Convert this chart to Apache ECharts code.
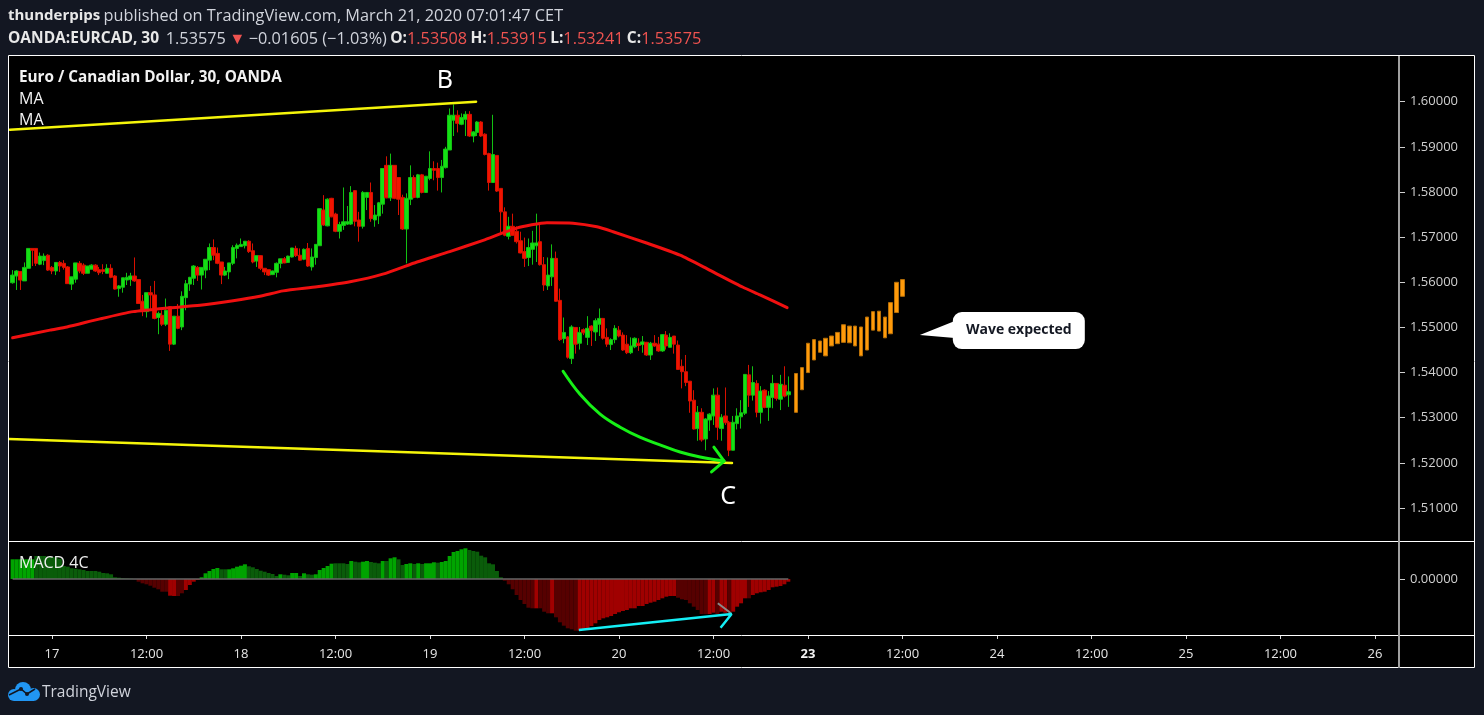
<!DOCTYPE html>
<html><head><meta charset="utf-8">
<style>html,body{margin:0;padding:0;background:#131722;}#c{width:1484px;height:715px;}</style>
<script src="https://cdn.jsdelivr.net/npm/echarts@6/dist/echarts.min.js"></script>
</head><body><div id="c"></div>
<script>
// x values are bar numbers counted from "17 00:00" (one bar = 30 minutes on the chart's compressed time scale)
const firstBar = -10;
const dateTicks = [0,24,48,72,96,120,144,168,192,216,240,264,288,312,336];
const dateLabels = ['17','12:00','18','12:00','19','12:00','20','12:00','23','12:00','24','12:00','25','12:00','26'];
const priceTicks = [1.51,1.52,1.53,1.54,1.55,1.56,1.57,1.58,1.59,1.60];
const macdTicks = [0];
// [open, close, low, high]
const candles = [
[1.5599,1.5616,1.5597,1.5627],[1.5614,1.5625,1.5583,1.5627],[1.5624,1.5605,1.5583,1.5625],[1.5603,1.5633,1.5603,1.5644],[1.5631,1.5675,1.5631,1.5675],
[1.5675,1.5671,1.5636,1.5675],[1.5675,1.5642,1.5636,1.5675],[1.5640,1.5658,1.5638,1.5666],[1.5648,1.5658,1.5638,1.5664],[1.5660,1.5627,1.5625,1.5662],
[1.5633,1.5625,1.5618,1.5636],[1.5625,1.5644,1.5616,1.5644],[1.5644,1.5636,1.5623,1.5647],[1.5642,1.5633,1.5628,1.5649],[1.5634,1.5597,1.5597,1.5636],
[1.5596,1.5612,1.5583,1.5612],[1.5607,1.5643,1.5599,1.5643],[1.5642,1.5625,1.5620,1.5647],[1.5638,1.5620,1.5616,1.5642],[1.5620,1.5636,1.5620,1.5636],
[1.5629,1.5638,1.5629,1.5640],[1.5638,1.5625,1.5623,1.5640],[1.5628,1.5621,1.5616,1.5634],[1.5628,1.5624,1.5618,1.5640],[1.5620,1.5631,1.5620,1.5640],
[1.5631,1.5611,1.5609,1.5640],[1.5614,1.5585,1.5584,1.5616],[1.5586,1.5592,1.5568,1.5594],[1.5589,1.5610,1.5577,1.5610],[1.5605,1.5611,1.5594,1.5621],
[1.5606,1.5614,1.5592,1.5621],[1.5614,1.5603,1.5601,1.5655],[1.5606,1.5553,1.5552,1.5606],[1.5558,1.5535,1.5525,1.5572],[1.5535,1.5577,1.5522,1.5577],
[1.5577,1.5572,1.5538,1.5592],[1.5572,1.5520,1.5518,1.5603],[1.5522,1.5531,1.5485,1.5535],[1.5527,1.5507,1.5503,1.5538],[1.5507,1.5538,1.5503,1.5564],
[1.5546,1.5463,1.5448,1.5547],[1.5463,1.5525,1.5461,1.5525],[1.5525,1.5498,1.5496,1.5552],[1.5501,1.5569,1.5494,1.5580],[1.5566,1.5597,1.5538,1.5605],
[1.5596,1.5611,1.5581,1.5612],[1.5609,1.5636,1.5594,1.5638],[1.5633,1.5616,1.5603,1.5636],[1.5616,1.5633,1.5584,1.5633],[1.5627,1.5651,1.5609,1.5651],
[1.5649,1.5677,1.5627,1.5686],[1.5677,1.5660,1.5649,1.5695],[1.5664,1.5642,1.5640,1.5677],[1.5645,1.5616,1.5596,1.5645],[1.5616,1.5625,1.5614,1.5634],
[1.5623,1.5643,1.5607,1.5643],[1.5642,1.5677,1.5638,1.5682],[1.5675,1.5682,1.5653,1.5686],[1.5679,1.5684,1.5679,1.5697],[1.5681,1.5691,1.5675,1.5691],
[1.5691,1.5668,1.5665,1.5693],[1.5670,1.5645,1.5642,1.5686],[1.5647,1.5659,1.5634,1.5659],[1.5659,1.5631,1.5627,1.5660],[1.5631,1.5623,1.5616,1.5631],
[1.5628,1.5616,1.5614,1.5628],[1.5617,1.5625,1.5616,1.5626],[1.5622,1.5642,1.5611,1.5644],[1.5642,1.5652,1.5631,1.5652],[1.5652,1.5643,1.5642,1.5656],
[1.5644,1.5658,1.5643,1.5659],[1.5656,1.5676,1.5655,1.5676],[1.5675,1.5659,1.5656,1.5681],[1.5660,1.5649,1.5648,1.5675],[1.5651,1.5673,1.5649,1.5675],
[1.5675,1.5636,1.5634,1.5687],[1.5634,1.5656,1.5626,1.5675],[1.5655,1.5684,1.5639,1.5684],[1.5681,1.5763,1.5681,1.5763],[1.5760,1.5727,1.5725,1.5793],
[1.5725,1.5784,1.5724,1.5786],[1.5786,1.5745,1.5744,1.5787],[1.5751,1.5713,1.5711,1.5754],[1.5713,1.5728,1.5697,1.5734],[1.5726,1.5734,1.5716,1.5810],
[1.5729,1.5734,1.5727,1.5769],[1.5729,1.5799,1.5727,1.5813],[1.5803,1.5735,1.5724,1.5804],[1.5738,1.5724,1.5690,1.5756],[1.5724,1.5799,1.5719,1.5802],
[1.5788,1.5799,1.5760,1.5800],[1.5799,1.5741,1.5734,1.5821],[1.5738,1.5749,1.5723,1.5771],[1.5747,1.5776,1.5729,1.5778],[1.5773,1.5852,1.5752,1.5852],
[1.5859,1.5787,1.5786,1.5879],[1.5787,1.5859,1.5780,1.5885],[1.5859,1.5786,1.5784,1.5859],[1.5832,1.5784,1.5749,1.5832],[1.5788,1.5718,1.5716,1.5794],
[1.5718,1.5786,1.5642,1.5797],[1.5784,1.5832,1.5771,1.5859],[1.5832,1.5788,1.5786,1.5837],[1.5788,1.5838,1.5786,1.5840],[1.5838,1.5799,1.5797,1.5840],
[1.5799,1.5835,1.5798,1.5835],[1.5830,1.5852,1.5826,1.5890],[1.5852,1.5848,1.5826,1.5868],[1.5852,1.5832,1.5803,1.5865],[1.5832,1.5857,1.5799,1.5871],
[1.5854,1.5895,1.5852,1.5900],[1.5893,1.5970,1.5893,1.5985],[1.5959,1.5970,1.5924,1.5994],[1.5970,1.5952,1.5932,1.5981],[1.5950,1.5965,1.5948,1.5974],
[1.5961,1.5972,1.5924,1.5979],[1.5972,1.5924,1.5922,1.5979],[1.5924,1.5933,1.5910,1.5935],[1.5932,1.5955,1.5924,1.5957],[1.5955,1.5924,1.5922,1.5957],
[1.5928,1.5883,1.5881,1.5930],[1.5885,1.5821,1.5803,1.5887],[1.5821,1.5883,1.5820,1.5971],[1.5881,1.5802,1.5800,1.5881],[1.5808,1.5756,1.5710,1.5808],
[1.5756,1.5704,1.5702,1.5766],[1.5702,1.5724,1.5695,1.5745],[1.5724,1.5704,1.5703,1.5752],[1.5713,1.5690,1.5686,1.5724],[1.5692,1.5665,1.5664,1.5712],
[1.5668,1.5653,1.5634,1.5699],[1.5655,1.5677,1.5636,1.5697],[1.5673,1.5687,1.5639,1.5714],[1.5681,1.5687,1.5645,1.5752],[1.5690,1.5639,1.5637,1.5727],
[1.5639,1.5594,1.5581,1.5656],[1.5592,1.5616,1.5583,1.5655],[1.5612,1.5653,1.5592,1.5684],[1.5653,1.5558,1.5557,1.5668],[1.5560,1.5473,1.5470,1.5586],
[1.5475,1.5489,1.5465,1.5522],[1.5479,1.5434,1.5431,1.5481],[1.5431,1.5501,1.5419,1.5505],[1.5500,1.5463,1.5442,1.5501],[1.5465,1.5489,1.5451,1.5501],
[1.5495,1.5488,1.5483,1.5498],[1.5478,1.5498,1.5461,1.5525],[1.5503,1.5493,1.5459,1.5505],[1.5490,1.5515,1.5470,1.5520],[1.5507,1.5520,1.5481,1.5542],
[1.5520,1.5476,1.5473,1.5521],[1.5478,1.5463,1.5457,1.5498],[1.5462,1.5473,1.5450,1.5476],[1.5473,1.5498,1.5465,1.5505],[1.5494,1.5481,1.5478,1.5503],
[1.5483,1.5450,1.5448,1.5489],[1.5463,1.5444,1.5441,1.5483],[1.5444,1.5459,1.5441,1.5478],[1.5457,1.5476,1.5454,1.5478],[1.5465,1.5460,1.5448,1.5476],
[1.5462,1.5468,1.5444,1.5481],[1.5467,1.5439,1.5437,1.5468],[1.5439,1.5465,1.5428,1.5468],[1.5465,1.5459,1.5457,1.5483],[1.5463,1.5448,1.5446,1.5479],
[1.5448,1.5484,1.5446,1.5485],[1.5483,1.5459,1.5451,1.5492],[1.5456,1.5478,1.5456,1.5487],[1.5481,1.5463,1.5442,1.5481],[1.5461,1.5407,1.5406,1.5471],
[1.5414,1.5402,1.5365,1.5429],[1.5402,1.5378,1.5370,1.5439],[1.5381,1.5337,1.5311,1.5381],[1.5339,1.5275,1.5274,1.5361],[1.5276,1.5312,1.5249,1.5326],
[1.5312,1.5251,1.5247,1.5321],[1.5253,1.5297,1.5228,1.5299],[1.5295,1.5308,1.5271,1.5310],[1.5304,1.5350,1.5284,1.5365],[1.5350,1.5279,1.5251,1.5367],
[1.5276,1.5301,1.5249,1.5308],[1.5304,1.5289,1.5284,1.5367],[1.5290,1.5228,1.5215,1.5293],[1.5228,1.5290,1.5228,1.5304],[1.5287,1.5304,1.5274,1.5321],
[1.5302,1.5311,1.5276,1.5339],[1.5310,1.5396,1.5306,1.5396],[1.5395,1.5350,1.5324,1.5417],[1.5350,1.5378,1.5338,1.5414],[1.5376,1.5312,1.5301,1.5383],
[1.5312,1.5359,1.5287,1.5370],[1.5361,1.5323,1.5321,1.5363],[1.5323,1.5348,1.5293,1.5359],[1.5345,1.5376,1.5321,1.5395],[1.5376,1.5343,1.5338,1.5376],
[1.5341,1.5374,1.5317,1.5395],[1.5372,1.5348,1.5345,1.5414],[1.53508,1.53575,1.53241,1.53915]
];
// projected bars: [bar, bottom, top]
const projected = [
[189,1.5312,1.5398],[190.5,1.5362,1.5411],[192,1.5400,1.5465],[193.5,1.5428,1.5473],[195,1.5445,1.5470],[196.5,1.5437,1.5476],[198,1.5459,1.5481],
[199.5,1.5464,1.5489],[201,1.5467,1.5506],[202.5,1.5466,1.5503],[204,1.5459,1.5503],[205.5,1.5437,1.5501],[207,1.5450,1.5523],[208.5,1.5494,1.5535],
[210,1.5492,1.5536],[211.5,1.5477,1.5523],[213,1.5486,1.5555],[214.5,1.5533,1.5600],[216,1.5569,1.5606]
];
const maLine = [[-10,1.5477],[-0.5,1.5494],[3.8,1.5501],[12.2,1.5519],[20.6,1.5535],[29.2,1.5543],[37.6,1.5549],[46,1.5559],[52.8,1.5569],[58.7,1.5581],[67.3,1.5590],[75.7,1.5601],[84,1.5618],[92.7,1.5645],[101,1.5668],[109.5,1.5693],[118,1.5720],[125.7,1.5732],[132.3,1.5731],[138.4,1.5723],[142.5,1.5712],[151,1.5687],[159.5,1.5660],[167,1.5627],[175.5,1.5589],[179.8,1.5572],[186.7,1.5544]];
const upperTrend = [[-10.7,1.5938],[107.7,1.6000]];
const lowerTrend = [[-10.9,1.5253],[172.7,1.5200]];
const greenCurve = [[129.8,1.5403],[134.1,1.5352],[139.2,1.5308],[144.3,1.5279],[149.3,1.5257],[154.4,1.5240],[159.5,1.5224],[164.6,1.5213],[170.7,1.5204]];
const greenHead = [[168.1,1.5235],[170.7,1.5204],[167.5,1.5180]];
const waveLabels = [[99.8,1.6046,'B'],[171.7,1.5125,'C']];
const calloutTip = [220.4,1.5483];
// MACD histogram, one value per candle; shade 1 = bright, 0 = dark
const macdValues = [
.00197,.00197,.00197,.00197,.00197,.00197,.0023,.0023,.0023,.00223,.0022,.00217,.00203,.0013,.00123,.00107,.00103,.00097,.0009,.0008,
.0008,.0008,.00073,.0006,.00057,.00047,.00017,.00013,.00007,.00005,.00003,-.00003,-.00027,-.00043,-.00053,-.00067,-.00087,-.00103,-.00127,-.00127,
-.00167,-.0017,-.0017,-.00143,-.0011,-.0006,-.00027,-.0001,.00017,.00057,.0008,.001,.0011,.00097,.00097,.00097,.00107,.00123,.00133,.00147,
.00127,.00117,.001,.00083,.00073,.0006,.0005,.0003,.00047,.00043,.00037,.0006,.0006,.0003,.00057,.00047,.00043,.00047,.0009,.0011,
.0013,.00153,.00157,.00157,.00157,.0015,.0018,.00173,.00167,.00173,.0018,.0017,.00163,.00157,.0018,.0018,.00207,.00217,.00197,.0014,
.0015,.00157,.0015,.00157,.0015,.00157,.00157,.00167,.00163,.0017,.0018,.0023,.0027,.0028,.00297,.00307,.0029,.0028,.00273,.00233,
.00217,.00157,.00147,.0008,.00017,-.00017,-.00053,-.00103,-.0016,-.0021,-.0025,-.00287,-.00293,-.00293,-.00293,-.00327,-.00343,-.00343,-.00383,-.00433,
-.00467,-.00493,-.00503,-.00517,-.00517,-.00503,-.00503,-.0047,-.00443,-.0041,-.00393,-.00383,-.0037,-.0035,-.00333,-.0032,-.0031,-.00293,-.00293,-.0027,
-.0027,-.0025,-.00237,-.00227,-.0021,-.00193,-.00177,-.0017,-.0017,-.00187,-.00203,-.0021,-.00243,-.00277,-.0031,-.0035,-.0035,-.0035,-.00337,-.0035,
-.00327,-.00337,-.0033,-.00327,-.00277,-.00243,-.00193,-.00193,-.0016,-.00143,-.00133,-.00127,-.0011,-.00083,-.00077,-.0007,-.00053,-.00027
];
const macdShades = [
1,1,1,1,1,1,0,0,0,0,0,0,0,0,0,0,0,0,0,0,
0,0,0,0,0,0,0,0,0,0,0,0,0,0,0,0,0,0,0,0,
1,1,0,0,1,1,1,1,1,1,1,1,1,0,0,1,1,1,1,1,
0,0,0,0,0,0,0,0,1,0,0,1,1,0,1,0,0,1,1,1,
1,1,0,0,0,0,1,0,0,1,1,0,0,0,1,0,1,1,0,0,
1,1,0,1,0,1,1,1,0,1,1,1,1,1,1,1,0,0,0,0,
0,0,0,0,0,0,0,0,0,0,0,0,0,1,0,0,0,1,0,0,
0,0,0,0,1,1,1,1,1,1,1,1,1,1,1,1,1,1,1,1,
1,1,1,1,1,1,1,1,1,0,0,0,0,0,0,0,0,1,1,0,
1,1,0,1,1,1,1,0,1,1,1,1,1,1,1,1,1,1
];
const macdZeroLine = [[-10,0],[187,0]];
const cyanArrow = [[133.8,-.0051],[172.6,-.0035],[169.8,-.00487]];
const greyStroke = [[169.1,-.00243],[171.7,-.0032],[172.6,-.0035]];

const FONT = '"Open Sans", "Noto Sans", sans-serif';
const xMin = -10.92, xMax = 342.1;
const GREEN='#14e014', RED='#f01400';
const lineSeries = (data,color,width,extra)=>Object.assign({type:'line',xAxisIndex:0,yAxisIndex:0,data,symbol:'none',silent:true,
  lineStyle:{color,width,cap:'round',join:'round'},z:4},extra||{});

const option = {
  animation:false,
  backgroundColor:'#131722',
  textStyle:{fontFamily:FONT},
  grid:[
    {left:9,right:85,top:56,height:485,containLabel:false},
    {left:9,right:85,top:542,height:93,containLabel:false}
  ],
  xAxis:[
    {type:'value',gridIndex:0,min:xMin,max:xMax,show:false,splitLine:{show:false},axisLine:{onZero:false}},
    {type:'value',gridIndex:1,min:xMin,max:xMax,position:'bottom',
      axisLine:{show:false,onZero:false},splitLine:{show:false},
      axisTick:{show:true,length:4,customValues:dateTicks,lineStyle:{color:'#d8d8d8',width:1}},
      axisLabel:{customValues:dateTicks,margin:13,fontSize:13,fontFamily:FONT,color:'#e6e6e6',
        formatter:v=>{const t=dateLabels[dateTicks.indexOf(v)];return t==='23'?'{b|23}':t;},
        rich:{b:{fontSize:13,fontWeight:'bold',color:'#f2f2f2',fontFamily:FONT}}}}
  ],
  yAxis:[
    {type:'value',gridIndex:0,min:1.5027,max:1.61012,position:'right',scale:true,
      axisLine:{show:false,onZero:false},splitLine:{show:false},
      axisTick:{show:true,length:6,customValues:priceTicks,lineStyle:{color:'#cfcfcf'}},
      axisLabel:{customValues:priceTicks,margin:11,fontSize:13,fontFamily:FONT,color:'#cfcfcf',padding:[4,0,0,0],formatter:v=>v.toFixed(5)}},
    {type:'value',gridIndex:1,min:-.0056,max:.0037,position:'right',
      axisLine:{show:false,onZero:false},splitLine:{show:false},
      axisTick:{show:true,length:6,customValues:macdTicks,lineStyle:{color:'#cfcfcf'}},
      axisLabel:{customValues:macdTicks,margin:11,fontSize:13,fontFamily:FONT,color:'#cfcfcf',padding:[4,0,0,0],formatter:v=>v.toFixed(5)}}
  ],
  series:[
    {type:'candlestick',name:'EURCAD',xAxisIndex:0,yAxisIndex:0,barWidth:4,z:3,
      encode:{x:0,y:[1,2,3,4]},
      data:candles.map((c,i)=>[firstBar+i,c[0],c[1],c[2],c[3]]),
      itemStyle:{color:GREEN,color0:RED,borderColor:'#12c012',borderColor0:'#d81000',borderWidth:1}},
    {type:'candlestick',name:'Projection',xAxisIndex:0,yAxisIndex:0,barWidth:4,z:3,
      encode:{x:0,y:[1,2,3,4]},
      data:projected.map(p=>[p[0],p[1],p[2],p[1],p[2]]),
      itemStyle:{color:'#ff9a0a',color0:'#ff9a0a',borderColor:'#b87008',borderColor0:'#b87008',borderWidth:1}},
    lineSeries(maLine,'#f01010',3,{name:'MA',smooth:0.2}),
    lineSeries(upperTrend,'#f5f50a',2.5,{name:'Upper trend'}),
    lineSeries(lowerTrend,'#f5f50a',2.5,{name:'Lower trend'}),
    lineSeries(greenCurve,'#16f016',3,{name:'Curve',smooth:0.4,z:5}),
    lineSeries(greenHead,'#16f016',3,{name:'Curve head',z:5}),
    {type:'scatter',name:'Waves',xAxisIndex:0,yAxisIndex:0,symbolSize:0,silent:true,z:6,itemStyle:{opacity:1},
      data:waveLabels.map(w=>({value:[w[0],w[1]],label:{show:true,position:'inside',formatter:w[2],color:'#ffffff',fontSize:25,opacity:1,fontFamily:'"Noto Sans", "Open Sans", sans-serif'}}))},
    {type:'custom',name:'Callout',xAxisIndex:0,yAxisIndex:0,silent:true,z:7,clip:false,data:[calloutTip],
      renderItem:(params,api)=>{
        const p=api.coord([api.value(0),api.value(1)]);
        const x=p[0], y=p[1];
        return {type:'group',children:[
          {type:'polygon',shape:{points:[[x,y],[x+35,y-14],[x+35,y+3]]},style:{fill:'#ffffff'}},
          {type:'rect',shape:{x:x+33,y:y-23,width:132,height:37,r:9},style:{fill:'#ffffff'}},
          {type:'text',style:{x:x+99,y:y-5,text:'Wave expected',align:'center',verticalAlign:'middle',fill:'#131722',font:'bold 14px "Open Sans", sans-serif'}}
        ]};
      }},
    {type:'bar',name:'MACD 4C',xAxisIndex:1,yAxisIndex:1,barWidth:4,z:3,silent:true,
      data:macdValues.map((v,i)=>({value:[firstBar+i,v],itemStyle:{color:v>=0?(macdShades[i]?'#00a400':'#0a5c0a'):(macdShades[i]?'#a00000':'#560000')}}))},
    {type:'line',name:'MACD zero',xAxisIndex:1,yAxisIndex:1,data:macdZeroLine,symbol:'none',silent:true,z:4,lineStyle:{color:'#666666',width:1.5}},
    {type:'line',name:'Grey stroke',xAxisIndex:1,yAxisIndex:1,data:greyStroke,symbol:'none',silent:true,z:5,lineStyle:{color:'#8a8a8a',width:2}},
    {type:'line',name:'Cyan arrow',xAxisIndex:1,yAxisIndex:1,data:cyanArrow,symbol:'none',silent:true,z:6,lineStyle:{color:'#14eef5',width:2.5}}
  ],
  graphic:[
    {type:'rect',z:-10,shape:{x:8,y:55,width:1467,height:613},style:{fill:'#000000'}},
    {type:'rect',z:20,shape:{x:8.5,y:55.5,width:1466,height:612},style:{fill:'none',stroke:'#ffffff',lineWidth:1}},
    {type:'line',z:20,shape:{x1:8.5,y1:541.5,x2:1474.5,y2:541.5},style:{stroke:'#ffffff',lineWidth:1}},
    {type:'line',z:20,shape:{x1:8.5,y1:635.5,x2:1474.5,y2:635.5},style:{stroke:'#ffffff',lineWidth:1}},
    {type:'line',z:21,shape:{x1:1399,y1:56,x2:1399,y2:668},style:{stroke:'#a0a0a0',lineWidth:2}},
    {type:'text',z:20,x:8,y:8,style:{text:'{b|thunderpips} {n|published on TradingView.com, March 21, 2020 07:01:47 CET}',
      rich:{b:{font:'bold 15px "Open Sans", sans-serif',fill:'#e8e8e8'},n:{font:'16.3px "Open Sans", sans-serif',fill:'#d1d4dc'}}}},
    {type:'text',z:20,x:8,y:31,style:{text:'{b|OANDA:EURCAD, 30}  {n|1.53575} {r|▼} {n|−0.01605 (−1.03%)} {b|O:}{r|1.53508} {b|H:}{r|1.53915} {b|L:}{r|1.53241} {b|C:}{r|1.53575}',
      rich:{b:{font:'bold 15.5px "Open Sans", sans-serif',fill:'#e8e8e8'},n:{font:'16.3px "Open Sans", sans-serif',fill:'#d1d4dc'},r:{font:'16.3px "Open Sans", sans-serif',fill:'#ef5350'}}}},
    {type:'text',z:20,x:19,y:70,style:{text:'Euro / Canadian Dollar, 30, OANDA',font:'bold 15.3px "Open Sans", sans-serif',fill:'#f2f2f2'}},
    {type:'text',z:20,x:19,y:91,style:{text:'MA',font:'16px "Open Sans", sans-serif',fill:'#f2f2f2'}},
    {type:'text',z:20,x:19,y:112,style:{text:'MA',font:'16px "Open Sans", sans-serif',fill:'#f2f2f2'}},
    {type:'text',z:20,x:19,y:555,style:{text:'MACD 4C',font:'16px "Open Sans", sans-serif',fill:'#eeeeee'}},
    {type:'circle',z:20,shape:{cx:14,cy:695,r:6},style:{fill:'#2196f3'}},
    {type:'circle',z:20,shape:{cx:23,cy:690,r:8},style:{fill:'#2196f3'}},
    {type:'circle',z:20,shape:{cx:33.5,cy:694.5,r:6.5},style:{fill:'#2196f3'}},
    {type:'rect',z:20,shape:{x:14,y:692,width:20,height:9},style:{fill:'#2196f3'}},
    {type:'polyline',z:21,shape:{points:[[9,695],[21,689],[27,694],[35,689]]},style:{stroke:'#131722',fill:'none',lineWidth:1.5}},
    {type:'circle',z:21,shape:{cx:21,cy:689,r:2},style:{fill:'#131722'}},
    {type:'circle',z:21,shape:{cx:27,cy:694,r:2},style:{fill:'#131722'}},
    {type:'text',z:20,x:42,y:685,style:{text:'TradingView',font:'15.5px "Open Sans", sans-serif',fill:'#d1d4dc'}}
  ]
};
echarts.init(document.getElementById('c'),null,{renderer:'canvas'}).setOption(option);
</script></body></html>
